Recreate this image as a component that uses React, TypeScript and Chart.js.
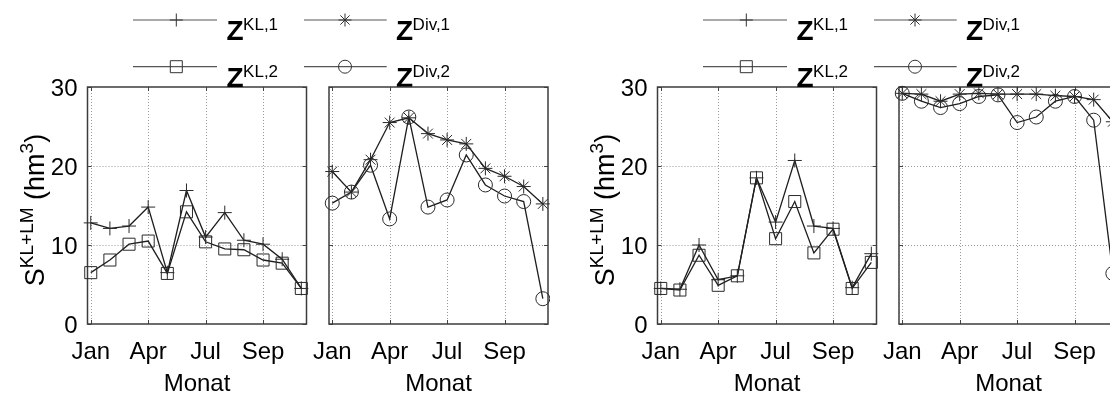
import React, { useEffect, useRef } from 'react';
import { Chart, registerables } from 'chart.js';

Chart.register(...registerables);

const FONT = "'Liberation Sans', Arial, Helvetica, sans-serif";

// ---------------- data ----------------
const months = [1, 2, 3, 4, 5, 6, 7, 8, 9, 10, 11, 12];
const monthTickValues = [1, 4, 7, 10];
const monthTickLabels = ['Jan', 'Apr', 'Jul', 'Sep'];
const yTickValues = [0, 10, 20, 30];
const seriesNames = ['KL,1', 'Div,1', 'KL,2', 'Div,2'];
const markerStyles = ['cross', 'star', 'rect', 'circle'];
const xAxisTitle = 'Monat';

const zKL1Left = [12.8, 12.1, 12.4, 14.8, 6.5, 16.9, 11.0, 14.1, 10.6, 10.1, 8.2, 4.5];
const zKL2Left = [6.5, 8.1, 10.1, 10.5, 6.4, 14.2, 10.4, 9.5, 9.4, 8.1, 7.7, 4.5];
const zDiv1Left = [19.3, 16.7, 20.8, 25.5, 26.1, 24.1, 23.3, 22.8, 19.7, 18.7, 17.4, 15.2];
const zDiv2Left = [15.3, 16.7, 20.1, 13.3, 26.2, 14.8, 15.7, 21.4, 17.6, 16.2, 15.5, 3.2];
const zKL1Right = [4.5, 4.4, 10.0, 5.6, 6.1, 18.5, 12.9, 20.7, 12.4, 12.1, 4.6, 8.9];
const zKL2Right = [4.5, 4.3, 8.7, 4.9, 6.1, 18.5, 10.8, 15.5, 9.0, 12.0, 4.5, 7.8];
const zDiv1Right = [29.2, 29.1, 28.2, 29.1, 29.2, 29.1, 29.1, 29.1, 28.9, 28.8, 28.4, 25.6];
const zDiv2Right = [29.2, 28.2, 27.4, 27.9, 28.8, 29.0, 25.5, 26.2, 28.2, 28.8, 25.8, 6.4];

// ---------------- layout ----------------
const H = 396;
const PLOT_TOP = 87;
const PLOT_BOTTOM = 324;
const X_MIN = 0.83;
const X_MAX = 12.27;
const Y_MIN = 0;
const Y_MAX = 30;

const LEG_COLS = [
  { x0: 133, x1: 217, mx: 176.3, tx: 226.5 },
  { x0: 304, x1: 386.7, mx: 345, tx: 396 },
];
const LEG_ROWS = [
  { lineY: 20, baseY: 40 },
  { lineY: 66.7, baseY: 86.7 },
];
const Y_LABEL_BASELINE_X = 44;
const Y_LABEL_CENTER_Y = 210;

function drawMarker(ctx: CanvasRenderingContext2D, style: string, x: number, y: number, r: number) {
  ctx.beginPath();
  if (style === 'cross') {
    ctx.moveTo(x - r, y); ctx.lineTo(x + r, y);
    ctx.moveTo(x, y - r); ctx.lineTo(x, y + r);
  } else if (style === 'star') {
    const d = r * Math.SQRT1_2;
    ctx.moveTo(x - r, y); ctx.lineTo(x + r, y);
    ctx.moveTo(x, y - r); ctx.lineTo(x, y + r);
    ctx.moveTo(x - d, y - d); ctx.lineTo(x + d, y + d);
    ctx.moveTo(x - d, y + d); ctx.lineTo(x + d, y - d);
  } else if (style === 'rect') {
    ctx.rect(x - r, y - r, 2 * r, 2 * r);
  } else {
    ctx.arc(x, y, r, 0, Math.PI * 2);
  }
  ctx.stroke();
}

const axesPlugin = {
  id: 'matlabAxes',
  beforeDatasetsDraw(chart: any) {
    const { ctx, chartArea: a, scales } = chart;
    const xs = scales.x;
    const ys = scales.y;
    ctx.save();
    ctx.strokeStyle = '#9a9a9a';
    ctx.lineWidth = 1;
    ctx.setLineDash([1, 2]);
    monthTickValues.forEach((v) => {
      const px = Math.round(xs.getPixelForValue(v)) + 0.5;
      ctx.beginPath(); ctx.moveTo(px, a.top); ctx.lineTo(px, a.bottom); ctx.stroke();
    });
    yTickValues.filter((v) => v > Y_MIN && v < Y_MAX).forEach((v) => {
      const py = Math.round(ys.getPixelForValue(v)) + 0.5;
      ctx.beginPath(); ctx.moveTo(a.left, py); ctx.lineTo(a.right, py); ctx.stroke();
    });
    ctx.setLineDash([]);
    ctx.strokeStyle = '#444';
    ctx.lineWidth = 1;
    const tl = 4;
    monthTickValues.forEach((v) => {
      const px = Math.round(xs.getPixelForValue(v)) + 0.5;
      ctx.beginPath();
      ctx.moveTo(px, a.bottom); ctx.lineTo(px, a.bottom - tl);
      ctx.moveTo(px, a.top); ctx.lineTo(px, a.top + tl);
      ctx.stroke();
    });
    yTickValues.forEach((v) => {
      const py = Math.round(ys.getPixelForValue(v)) + 0.5;
      ctx.beginPath();
      ctx.moveTo(a.left, py); ctx.lineTo(a.left + tl, py);
      ctx.moveTo(a.right, py); ctx.lineTo(a.right - tl, py);
      ctx.stroke();
    });
    ctx.strokeStyle = '#3c3c3c';
    ctx.lineWidth = 1.5;
    ctx.strokeRect(a.left, a.top, a.right - a.left, a.bottom - a.top);
    ctx.restore();
  },
};

const legendPlugin = {
  id: 'zLegend',
  afterDraw(chart: any) {
    const ctx = chart.ctx as CanvasRenderingContext2D;
    ctx.save();
    seriesNames.forEach((name, i) => {
      const c = LEG_COLS[i % 2];
      const r = LEG_ROWS[Math.floor(i / 2)];
      ctx.strokeStyle = '#555';
      ctx.lineWidth = 1.2;
      ctx.beginPath(); ctx.moveTo(c.x0, r.lineY); ctx.lineTo(c.x1, r.lineY); ctx.stroke();
      ctx.strokeStyle = '#333';
      ctx.lineWidth = 1;
      const st = markerStyles[i];
      drawMarker(ctx, st, c.mx, r.lineY, st === 'rect' ? 6 : 6.5);
      ctx.fillStyle = '#000';
      ctx.textAlign = 'left';
      ctx.textBaseline = 'alphabetic';
      ctx.font = `bold 28px ${FONT}`;
      ctx.fillText('Z', c.tx, r.baseY);
      const zw = ctx.measureText('Z').width;
      ctx.font = `17px ${FONT}`;
      ctx.fillText(name, c.tx + zw - 0.5, r.baseY - 10);
    });
    ctx.restore();
  },
};

const yLabelParts: [string, boolean][] = [['S', false], ['KL+LM', true], [' (hm', false], ['3', true], [')', false]];

const yLabelPlugin = {
  id: 'yLabel',
  afterDraw(chart: any) {
    const ctx = chart.ctx as CanvasRenderingContext2D;
    const mainFont = `27px ${FONT}`;
    const supFont = `19px ${FONT}`;
    ctx.save();
    let total = 0;
    const widths = yLabelParts.map(([t, sup]) => {
      ctx.font = sup ? supFont : mainFont;
      const w = ctx.measureText(t).width;
      total += w;
      return w;
    });
    ctx.translate(Y_LABEL_BASELINE_X, Y_LABEL_CENTER_Y);
    ctx.rotate(-Math.PI / 2);
    ctx.fillStyle = '#000';
    ctx.textAlign = 'left';
    ctx.textBaseline = 'alphabetic';
    let x = -total / 2;
    yLabelParts.forEach(([t, sup], i) => {
      ctx.font = sup ? supFont : mainFont;
      ctx.fillText(t, x, sup ? -11 : 0);
      x += widths[i];
    });
    ctx.restore();
  },
};

type Series = { name: string; values: number[]; marker: string };
type PanelSpec = {
  canvasLeft: number;
  canvasWidth: number;
  plotLeft: number;
  plotRight: number;
  showYTicks: boolean;
  series: Series[];
  decorate: boolean;
};

const panels: PanelSpec[] = [
  {
    canvasLeft: 0, canvasWidth: 560, plotLeft: 87.5, plotRight: 306.5, showYTicks: true, decorate: true,
    series: [
      { name: seriesNames[0], values: zKL1Left, marker: markerStyles[0] },
      { name: seriesNames[2], values: zKL2Left, marker: markerStyles[2] },
    ],
  },
  {
    canvasLeft: 300, canvasWidth: 250, plotLeft: 329, plotRight: 548, showYTicks: false, decorate: false,
    series: [
      { name: seriesNames[1], values: zDiv1Left, marker: markerStyles[1] },
      { name: seriesNames[3], values: zDiv2Left, marker: markerStyles[3] },
    ],
  },
  {
    canvasLeft: 570, canvasWidth: 560, plotLeft: 657.5, plotRight: 876.5, showYTicks: true, decorate: true,
    series: [
      { name: seriesNames[0], values: zKL1Right, marker: markerStyles[0] },
      { name: seriesNames[2], values: zKL2Right, marker: markerStyles[2] },
    ],
  },
  {
    canvasLeft: 870, canvasWidth: 250, plotLeft: 899, plotRight: 1118, showYTicks: false, decorate: false,
    series: [
      { name: seriesNames[1], values: zDiv1Right, marker: markerStyles[1] },
      { name: seriesNames[3], values: zDiv2Right, marker: markerStyles[3] },
    ],
  },
];

function markerRadius(style: string) {
  return style === 'rect' ? 8.5 : 7;
}

function buildConfig(p: PanelSpec): any {
  const relLeft = p.plotLeft - p.canvasLeft;
  const relRight = p.plotRight - p.canvasLeft;
  const tickFont = { family: FONT, size: 24 };
  return {
    type: 'line',
    data: {
      datasets: p.series.map((s) => ({
        label: s.name,
        data: months.map((m, i) => ({ x: m, y: s.values[i] })),
        borderColor: '#1e1e1e',
        borderWidth: 1.3,
        tension: 0,
        pointStyle: s.marker,
        pointRadius: markerRadius(s.marker),
        pointHoverRadius: markerRadius(s.marker),
        pointBorderColor: '#2a2a2a',
        pointBorderWidth: 1,
        pointBackgroundColor: 'rgba(0,0,0,0)',
        clip: false,
      })),
    },
    options: {
      animation: false,
      responsive: false,
      devicePixelRatio: 1,
      events: [],
      layout: {
        autoPadding: false,
        padding: { left: 0, top: PLOT_TOP, right: p.canvasWidth - relRight, bottom: 0 },
      },
      plugins: { legend: { display: false }, tooltip: { enabled: false }, title: { display: false } },
      scales: {
        x: {
          type: 'linear',
          min: X_MIN,
          max: X_MAX,
          grid: { display: false, drawTicks: false },
          border: { display: false },
          afterBuildTicks: (s: any) => { s.ticks = monthTickValues.map((v) => ({ value: v })); },
          ticks: {
            autoSkip: false, maxRotation: 0, minRotation: 0, padding: 14, color: '#000', font: tickFont,
            callback: (v: number) => { const i = monthTickValues.indexOf(v); return i >= 0 ? monthTickLabels[i] : ''; },
          },
          title: { display: true, text: xAxisTitle, color: '#000', font: { family: FONT, size: 24, lineHeight: 1.0 }, padding: { top: 0, bottom: 0 } },
          afterFit: (s: any) => { s.height = H - PLOT_BOTTOM; s.paddingLeft = 0; s.paddingRight = 0; },
        },
        y: {
          type: 'linear',
          min: Y_MIN,
          max: Y_MAX,
          grid: { display: false, drawTicks: false },
          border: { display: false },
          afterBuildTicks: (s: any) => { s.ticks = yTickValues.map((v) => ({ value: v })); },
          ticks: { display: p.showYTicks, padding: 10, labelOffset: 2, color: '#000', font: tickFont, callback: (v: number) => String(v) },
          afterFit: (s: any) => { s.width = relLeft; s.paddingTop = 0; s.paddingBottom = 0; },
        },
      },
    },
    plugins: p.decorate ? [axesPlugin, legendPlugin, yLabelPlugin] : [axesPlugin],
  };
}

export default function App() {
  const r0 = useRef<HTMLCanvasElement>(null);
  const r1 = useRef<HTMLCanvasElement>(null);
  const r2 = useRef<HTMLCanvasElement>(null);
  const r3 = useRef<HTMLCanvasElement>(null);
  const refs = [r0, r1, r2, r3];

  useEffect(() => {
    const charts = panels.map((p, i) => new Chart(refs[i].current as HTMLCanvasElement, buildConfig(p)));
    return () => charts.forEach((c) => c.destroy());
  }, []);

  return (
    <div style={{ position: 'fixed', left: 0, top: 0, width: 1110, height: H, overflow: 'hidden', background: '#fff' }}>
      {panels.map((p, i) => (
        <canvas
          key={i}
          ref={refs[i]}
          width={p.canvasWidth}
          height={H}
          style={{ position: 'absolute', left: p.canvasLeft, top: 0, width: p.canvasWidth, height: H }}
        />
      ))}
    </div>
  );
}
